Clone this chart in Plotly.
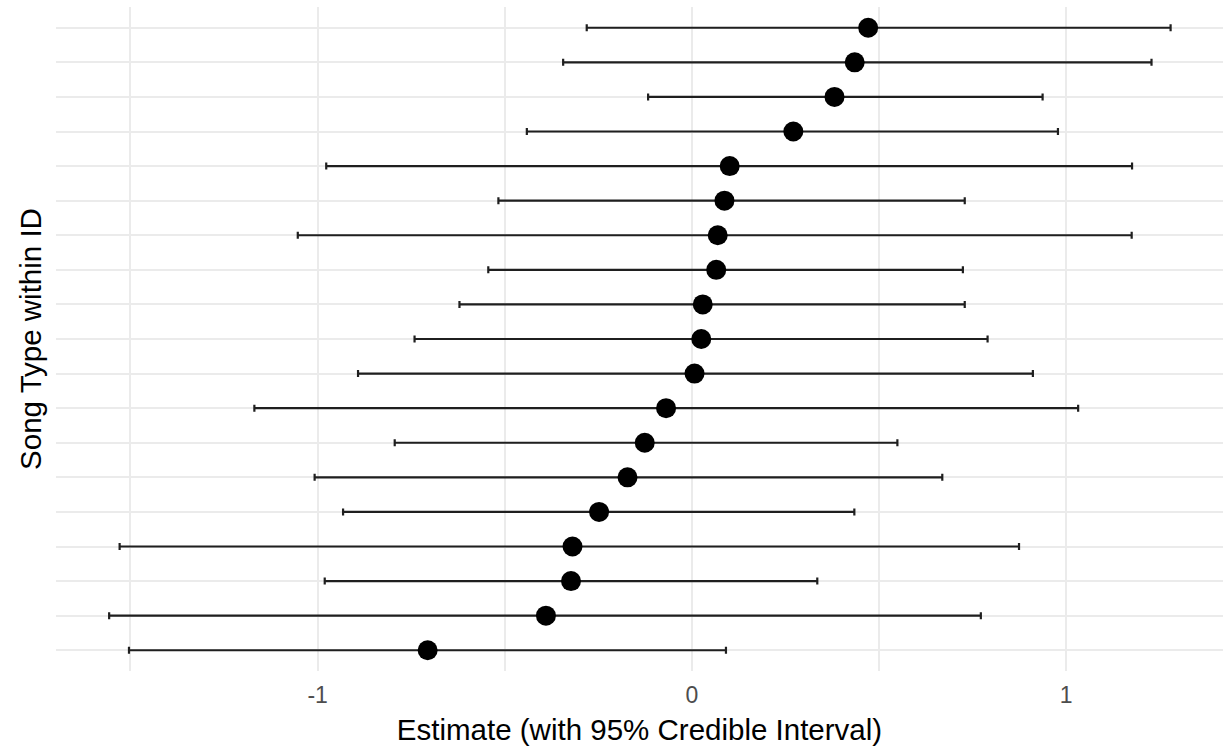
import plotly.graph_objects as go

# Rows listed top to bottom (sorted by estimate, descending)
estimates = [0.471, 0.435, 0.381, 0.271, 0.101, 0.087, 0.069, 0.065, 0.029, 0.025,
             0.007, -0.069, -0.126, -0.172, -0.248, -0.319, -0.323, -0.390, -0.706]
lower = [-0.281, -0.344, -0.117, -0.441, -0.977, -0.517, -1.053, -0.544, -0.621, -0.741,
         -0.892, -1.169, -0.794, -1.008, -0.932, -1.529, -0.981, -1.557, -1.504]
upper = [1.279, 1.228, 0.937, 0.978, 1.176, 0.729, 1.175, 0.724, 0.729, 0.790,
         0.911, 1.032, 0.549, 0.669, 0.434, 0.874, 0.335, 0.772, 0.091]

x_ticks = [-1, 0, 1]
x_tick_text = ["-1", "0", "1"]
x_minor = [-1.5, -0.5, 0.5]

n = len(estimates)
rows = list(range(n, 0, -1))  # top row gets highest position

err_plus = [u - e for u, e in zip(upper, estimates)]
err_minus = [e - l for e, l in zip(estimates, lower)]

fig = go.Figure()
fig.add_trace(go.Scatter(
    x=estimates, y=rows, mode="markers",
    marker=dict(size=20, color="black"),
    error_x=dict(type="data", symmetric=False, array=err_plus, arrayminus=err_minus,
                 color="#1f1f1f", thickness=2.2, width=3.5),
    showlegend=False, hoverinfo="x",
))

fig.update_layout(
    width=1223, height=753,
    margin=dict(l=56, r=0, t=7, b=82),
    plot_bgcolor="white", paper_bgcolor="white",
    font=dict(family="Liberation Sans, Arial, sans-serif"),
    xaxis=dict(
        range=[-1.699, 1.419],
        tickvals=x_ticks, ticktext=x_tick_text,
        tickfont=dict(size=23, color="#4D4D4D"),
        ticklabelstandoff=8,
        showgrid=True, gridcolor="#EBEBEB", gridwidth=1.8,
        minor=dict(tickvals=x_minor, showgrid=True, gridcolor="#EBEBEB", gridwidth=1.8),
        zeroline=False, showline=False, ticks="",
        title=dict(text="Estimate (with 95% Credible Interval)",
                   font=dict(size=29.5, color="black"), standoff=12),
    ),
    yaxis=dict(
        range=[0.4, n + 0.6],
        tickvals=rows, showticklabels=False,
        showgrid=True, gridcolor="#EBEBEB", gridwidth=1.8,
        zeroline=False, showline=False, ticks="",
        title=dict(text="Song Type within ID",
                   font=dict(size=29.5, color="black"), standoff=4),
    ),
)

fig.write_html("out.html")
